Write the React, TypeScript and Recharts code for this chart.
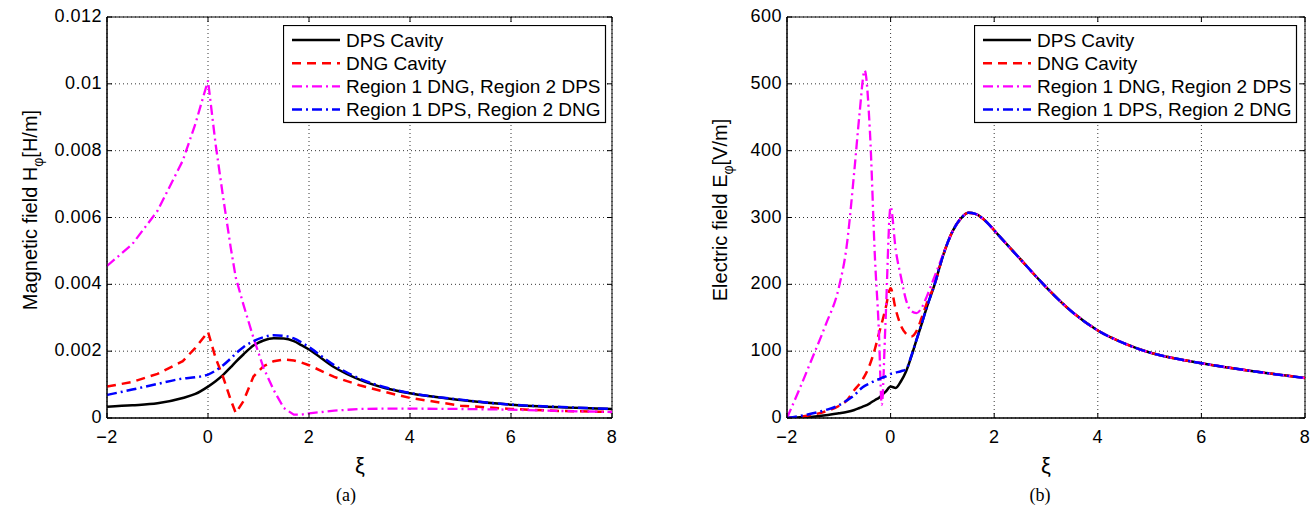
import React from 'react';
import { LineChart, Line, XAxis, YAxis, CartesianGrid, Legend, ReferenceArea, Label } from 'recharts';

// (a) magnetic field, sampled along xi
const xiH = [-2, -1.5, -1, -0.5, -0.25, 0, 0.15, 0.3, 0.45, 0.55, 0.7, 0.9, 1.1, 1.3, 1.5, 1.7, 1.85, 2, 2.5, 3, 3.5, 4, 5, 6, 7, 8];
const hDps = [0.00034, 0.00038, 0.00044, 0.0006, 0.00072, 0.00094, 0.0011, 0.00129, 0.00152, 0.00168, 0.0019, 0.00217, 0.00232, 0.00239, 0.00238, 0.0023, 0.00218, 0.00205, 0.00152, 0.00115, 0.0009, 0.00074, 0.00054, 0.0004, 0.00032, 0.00027];
const hDng = [0.00094, 0.00108, 0.00132, 0.0017, 0.0021, 0.00258, 0.0018, 0.00122, 0.00054, 0.00015, 0.0005, 0.00124, 0.00155, 0.0017, 0.00175, 0.00172, 0.00166, 0.00158, 0.00123, 0.00098, 0.00078, 0.0006, 0.00037, 0.00027, 0.00021, 0.00018];
const hR1DngR2Dps = [0.00455, 0.0052, 0.0062, 0.0077, 0.0088, 0.0101, 0.0082, 0.0066, 0.0051, 0.0042, 0.0034, 0.0024, 0.0015, 0.00084, 0.0003, 0.0001, 0.0001, 0.00014, 0.00022, 0.00027, 0.00028, 0.00028, 0.00027, 0.00025, 0.00021, 0.00018];
const hR1DpsR2Dng = [0.00069, 0.00085, 0.00102, 0.00118, 0.00122, 0.0013, 0.00142, 0.00158, 0.00178, 0.00193, 0.00212, 0.0023, 0.00242, 0.00248, 0.00246, 0.00238, 0.00226, 0.00212, 0.00158, 0.00118, 0.00092, 0.00075, 0.00055, 0.0004, 0.00033, 0.00027];

// (b) electric field
const xiE = [-2, -1.75, -1.5, -1.25, -1, -0.85, -0.7, -0.6, -0.5, -0.4, -0.3, -0.23, -0.17, -0.1, 0, 0.1, 0.2, 0.3, 0.4, 0.5, 0.6, 0.7, 0.85, 1, 1.2, 1.35, 1.5, 1.65, 1.8, 2.1, 2.5, 3, 3.5, 4, 4.5, 5, 5.5, 6, 7, 8];
const eDps = [0, 1, 2, 4, 7, 9, 12, 15, 18, 22, 27, 30, 34, 39, 47, 45, 55, 70, 92, 117, 141, 166, 200, 240, 280, 298, 307, 305, 297, 272, 238, 196, 159, 131, 112, 98, 89, 82, 70, 60];
const eDng = [0, 2, 5, 10, 18, 26, 42, 51, 63, 80, 104, 125, 142, 163, 194, 162, 138, 126, 122, 130, 150, 172, 200, 240, 280, 298, 307, 305, 297, 272, 238, 196, 159, 131, 112, 98, 89, 82, 70, 60];
const eR1DngR2Dps = [0, 45, 92, 140, 195, 256, 370, 455, 520, 430, 236, 137, 20, 140, 316, 251, 211, 176, 160, 157, 165, 182, 212, 242, 280, 298, 307, 305, 297, 272, 238, 196, 159, 131, 112, 98, 89, 82, 70, 60];
const eR1DpsR2Dng = [0, 3, 7, 12, 19, 26, 34, 42, 48, 52, 56, 58, 60, 62, 66, 68, 70, 73, 93, 117, 141, 166, 200, 240, 280, 298, 307, 305, 297, 272, 238, 196, 159, 131, 112, 98, 89, 82, 70, 60];

const seriesNames = ['DPS Cavity', 'DNG Cavity', 'Region 1 DNG, Region 2 DPS', 'Region 1 DPS, Region 2 DNG'];
const xTicks = [-2, 0, 2, 4, 6, 8];
const hTicks = [0, 0.002, 0.004, 0.006, 0.008, 0.01, 0.012];
const eTicks = [0, 100, 200, 300, 400, 500, 600];

const FONT = '"Liberation Sans", Arial, Helvetica, sans-serif';
const PLOT_TOP = 17;
const PLOT_BOTTOM = 418;

const styles = [
  { key: 's0', color: '#000000', dash: undefined as string | undefined, width: 2.5 },
  { key: 's1', color: '#ff0000', dash: '9 6', width: 2.5 },
  { key: 's2', color: '#ff00ff', dash: '10 4 2 4', width: 2.3 },
  { key: 's3', color: '#0000ff', dash: '10 4 2 4', width: 2.5 },
];

function buildRows(xi: number[], cols: number[][]) {
  return xi.map((x, i) => {
    const row: Record<string, number> = { xi: x };
    cols.forEach((c, k) => { row[styles[k].key] = c[i]; });
    return row;
  });
}

const hRows = buildRows(xiH, [hDps, hDng, hR1DngR2Dps, hR1DpsR2Dng]);
const eRows = buildRows(xiE, [eDps, eDng, eR1DngR2Dps, eR1DpsR2Dng]);

const fmtX = (v: number) => (v < 0 ? '\u2212' + Math.abs(v) : String(v));

function LegendBox() {
  return (
    <svg width={324} height={99} style={{ display: 'block' }}>
      <rect x={0.5} y={0.5} width={322} height={97} fill="#fff" stroke="#000" strokeWidth={1.2} />
      {seriesNames.map((n, i) => {
        const cy = 15 + i * 23.2;
        const s = styles[i];
        return (
          <g key={n}>
            <line x1={9} x2={57} y1={cy} y2={cy} stroke={s.color} strokeWidth={s.width} strokeDasharray={s.dash} />
            <text x={63} y={cy + 6.6} fontSize={19} fontFamily={FONT} fill="#000">{n}</text>
          </g>
        );
      })}
    </svg>
  );
}

type PanelProps = {
  rows: Record<string, number>[];
  width: number;
  yAxisWidth: number;
  marginRight: number;
  yDomain: [number, number];
  yTicks: number[];
  yName: string;
  yUnit: string;
  yLabelX: number;
  xiX: number;
  caption: string;
  captionX: number;
  legendLeft: number;
  curves: ('monotone' | 'linear')[];
};

function Panel(p: PanelProps) {
  const left = p.yAxisWidth;
  const right = p.width - p.marginRight;

  const xTick = (props: any) => {
    const { x, payload } = props;
    return (
      <g>
        <line x1={x} x2={x} y1={PLOT_BOTTOM} y2={PLOT_BOTTOM - 5} stroke="#000" />
        <line x1={x} x2={x} y1={PLOT_TOP} y2={PLOT_TOP + 5} stroke="#000" />
        <text x={x} y={PLOT_BOTTOM + 25} textAnchor="middle" fontSize={18} letterSpacing={0.5} fontFamily={FONT} fill="#000">
          {fmtX(payload.value)}
        </text>
      </g>
    );
  };

  const yTick = (props: any) => {
    const { y, payload } = props;
    return (
      <g>
        <line x1={left} x2={left + 5} y1={y} y2={y} stroke="#000" />
        <line x1={right} x2={right - 5} y1={y} y2={y} stroke="#000" />
        <text x={left - 5} y={y + 5} textAnchor="end" fontSize={18} letterSpacing={0.5} fontFamily={FONT} fill="#000">
          {String(payload.value)}
        </text>
      </g>
    );
  };

  const cy = 210;
  const yLabel = () => (
    <text
      x={p.yLabelX}
      y={cy}
      transform={`rotate(-90, ${p.yLabelX}, ${cy})`}
      textAnchor="middle"
      fontSize={20}
      fontFamily={FONT}
      fill="#000"
    >
      {p.yName}
      <tspan fontSize={14} dy={6}>{'\u03c6'}</tspan>
      <tspan dy={-6}>{p.yUnit}</tspan>
    </text>
  );

  const xLabel = () => (
    <g>
      <text x={p.xiX} y={473} textAnchor="middle" fontSize={22} fontFamily={FONT} fill="#000">
        {'\u03be'}
      </text>
      <text x={p.captionX} y={501} textAnchor="middle" fontSize={18} fontFamily='"Liberation Serif", "Times New Roman", serif' fill="#000">
        {p.caption}
      </text>
    </g>
  );

  return (
    <LineChart width={p.width} height={507} data={p.rows} margin={{ top: PLOT_TOP, right: p.marginRight, left: 0, bottom: 59 }}>
      <CartesianGrid stroke="#000" strokeDasharray="1 3" strokeWidth={0.8} />
      <XAxis
        dataKey="xi"
        type="number"
        domain={[-2, 8]}
        ticks={xTicks}
        interval={0}
        allowDataOverflow
        height={30}
        tickLine={false}
        axisLine={{ stroke: '#000' }}
        tick={xTick}
      >
        <Label content={xLabel} />
      </XAxis>
      <YAxis
        type="number"
        domain={p.yDomain}
        ticks={p.yTicks}
        interval={0}
        allowDataOverflow
        width={p.yAxisWidth}
        tickLine={false}
        axisLine={{ stroke: '#000' }}
        tick={yTick}
      >
        <Label content={yLabel} />
      </YAxis>
      <ReferenceArea x1={-2} x2={8} y1={p.yDomain[0]} y2={p.yDomain[1]} fill="none" stroke="#000" strokeWidth={1} />
      {styles.map((s, i) => (
        <Line
          key={s.key}
          dataKey={s.key}
          name={seriesNames[i]}
          type={p.curves[i]}
          stroke={s.color}
          strokeWidth={s.width}
          strokeDasharray={s.dash}
          dot={false}
          activeDot={false}
          isAnimationActive={false}
        />
      ))}
      <Legend
        layout="vertical"
        align="center"
        verticalAlign="middle"
        wrapperStyle={{ left: p.legendLeft, top: 25, width: 324, height: 99 }}
        content={() => <LegendBox />}
      />
    </LineChart>
  );
}

export default function App() {
  return (
    <div style={{ position: 'absolute', left: 0, top: 0, width: 1312, height: 507, background: '#fff' }}>
      <div style={{ position: 'absolute', left: 0, top: 0 }}>
        <Panel
          rows={hRows}
          width={650}
          yAxisWidth={107}
          marginRight={38}
          yDomain={[0, 0.012]}
          yTicks={hTicks}
          yName="Magnetic field H"
          yUnit="[H/m]"
          yLabelX={37}
          xiX={360}
          caption="(a)"
          captionX={346}
          legendLeft={283}
          curves={['monotone', 'linear', 'linear', 'monotone']}
        />
      </div>
      <div style={{ position: 'absolute', left: 660, top: 0 }}>
        <Panel
          rows={eRows}
          width={652}
          yAxisWidth={127}
          marginRight={7}
          yDomain={[0, 600]}
          yTicks={eTicks}
          yName="Electric field E"
          yUnit="[V/m]"
          yLabelX={67}
          xiX={386}
          caption="(b)"
          captionX={380}
          legendLeft={314}
          curves={['monotone', 'monotone', 'monotone', 'monotone']}
        />
      </div>
    </div>
  );
}
